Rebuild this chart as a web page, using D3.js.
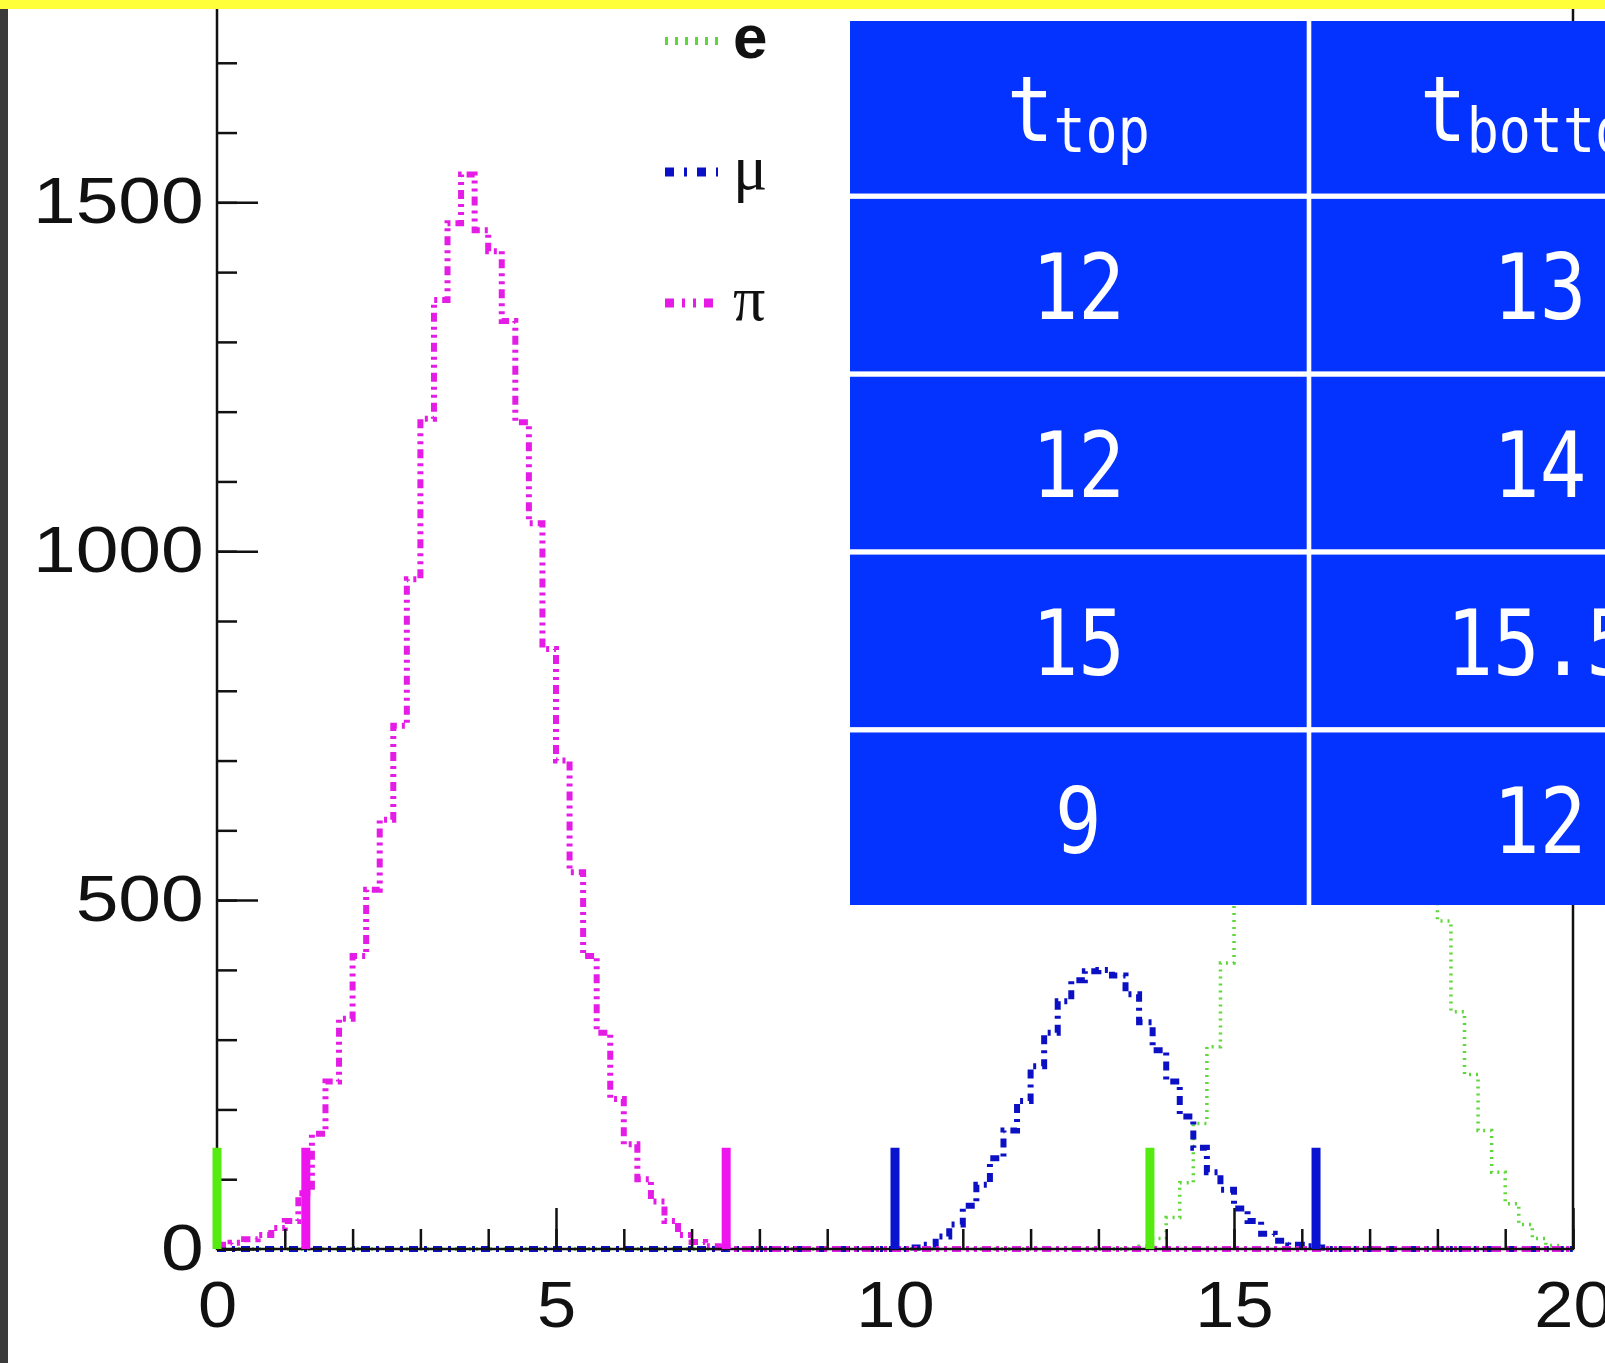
<!DOCTYPE html>
<html>
<head>
<meta charset="utf-8">
<script src="https://cdn.jsdelivr.net/npm/d3@7"></script>
<style>
  body { margin: 0; background: #fff; }
  svg { display: block; }
</style>
</head>
<body>
<div id="chart"></div>
<script>

/* DATA */
// histograms, 0.2 wide bins; each list starts at its own first bin edge
const binWidth = 0.2;

const piStart = 0.0;
const piCounts = [6, 9, 14, 20, 30, 40, 80, 165, 240, 330, 420, 515, 615, 750, 960, 1190,
  1360, 1470, 1540, 1460, 1430, 1330, 1185, 1040, 860, 700, 540, 420, 310, 215, 150, 100,
  68, 40, 20, 10, 4, 2];

const muStart = 10.2;
const muCounts = [2, 6, 18, 35, 62, 92, 130, 170, 212, 262, 310, 355, 385, 398, 400, 392,
  365, 325, 285, 240, 190, 145, 110, 85, 58, 40, 22, 12, 6, 4, 2];

const eStart = 13.6;
const eCounts = [4, 15, 45, 95, 180, 290, 410, 500, 650, 820, 990, 1150, 1290, 1400, 1460,
  1475, 1440, 1360, 1240, 1080, 860, 640, 470, 340, 250, 170, 110, 65, 35, 15, 5];

// the thick vertical markers
const cutPositions = [0, 1.31, 7.51, 10.0, 13.76, 16.21];
const cutSeries = ["e", "pi", "pi", "mu", "e", "mu"];
const cutHeight = 145;

const legendKeys = ["e", "mu", "pi"];
const legendLabels = ["e", "μ", "π"];

const xMajorTicks = [0, 5, 10, 15, 20];
const xMinorTicks = d3.range(0, 21, 1);
const yMajorTicks = [0, 500, 1000, 1500];
const yMinorTicks = d3.range(0, 1800, 100);

// table overlay
const tableHeader = [["t", "top"], ["t", "bottom"]];
const tableRows = [["12", "13"], ["12", "14"], ["15", "15.5"], ["9", "12"]];

/* CONSTANTS */
const width = 1605, height = 1363;

const colors = {
  e: "#5ed838",
  mu: "#0c10c4",
  pi: "#e41ce6"
};
const barColors = {
  e: "#55ea10",
  mu: "#0a14d0",
  pi: "#ee14ee"
};
const dashes = {
  e: "2,5",
  mu: "9,6,3,6",
  pi: "9,5,3,5,3,5"
};
const strokeW = { e: 3.5, mu: 6, pi: 6 };

const svg = d3.select("#chart")
  .append("svg")
  .attr("width", width)
  .attr("height", height);

svg.append("rect")
  .attr("width", width).attr("height", height)
  .attr("fill", "#fff");

/* SCALES */
const xScale = d3.scaleLinear()
  .domain([0, 20])
  .range([217, 1573]);

const yScale = d3.scaleLinear()
  .domain([0, 1800])
  .range([1249, -7]);

/* HISTOGRAMS */
function buildBins(start, counts) {
  const nBins = Math.round(20 / binWidth);
  const first = Math.round(start / binWidth);
  return d3.range(nBins).map(i => {
    const j = i - first;
    return { x: i * binWidth, y: (j >= 0 && j < counts.length) ? counts[j] : 0 };
  });
}

const series = [
  { key: "e", bins: buildBins(eStart, eCounts) },
  { key: "mu", bins: buildBins(muStart, muCounts) },
  { key: "pi", bins: buildBins(piStart, piCounts) }
];

const stepLine = d3.line()
  .x(d => xScale(d.x))
  .y(d => yScale(d.y))
  .curve(d3.curveStepAfter);

svg.selectAll(".hist")
  .data(series)
  .join("path")
  .attr("class", "hist")
  .attr("fill", "none")
  .attr("stroke", d => colors[d.key])
  .attr("stroke-width", d => strokeW[d.key])
  .attr("stroke-dasharray", d => dashes[d.key])
  .attr("d", d => stepLine(d.bins.concat([{ x: 20, y: d.bins[d.bins.length - 1].y }])));

/* AXES */
const axisG = svg.append("g")
  .attr("font-family", "'Liberation Sans', Arial, sans-serif");

// frame
axisG.append("path")
  .attr("fill", "none")
  .attr("stroke", "#111")
  .attr("stroke-width", 2.5)
  .attr("d", `M${xScale(0)},${yScale(1800)}V${yScale(0)}H${xScale(20)}V${yScale(1800)}`);

const yMinor = d3.axisLeft(yScale)
  .tickValues(yMinorTicks)
  .tickSizeInner(-20).tickSizeOuter(0)
  .tickFormat("");
const yMajor = d3.axisLeft(yScale)
  .tickValues(yMajorTicks)
  .tickSizeInner(-41).tickSizeOuter(0)
  .tickPadding(11)
  .tickFormat(d3.format("d"));

const xMinor = d3.axisBottom(xScale)
  .tickValues(xMinorTicks)
  .tickSizeInner(-20).tickSizeOuter(0)
  .tickFormat("");
const xMajor = d3.axisBottom(xScale)
  .tickValues(xMajorTicks)
  .tickSizeInner(-41).tickSizeOuter(0)
  .tickPadding(33)
  .tickFormat(d3.format("d"));

[yMinor, yMajor].forEach(ax => {
  axisG.append("g")
    .attr("class", "yax")
    .attr("transform", `translate(${xScale(0)},0)`)
    .call(ax);
});
[xMinor, xMajor].forEach(ax => {
  axisG.append("g")
    .attr("class", "xax")
    .attr("transform", `translate(0,${yScale(0)})`)
    .call(ax);
});

axisG.selectAll(".domain").remove();
axisG.selectAll(".tick line")
  .attr("stroke", "#111")
  .attr("stroke-width", 2.5);
axisG.selectAll(".tick text")
  .attr("fill", "#111")
  .attr("font-size", 64);
axisG.selectAll(".yax .tick text")
  .attr("transform", "scale(1.2,1)");
axisG.selectAll(".xax .tick text")
  .attr("transform", "scale(1.1,1)");

/* CUT MARKERS */
svg.selectAll(".cut")
  .data(cutPositions)
  .join("line")
  .attr("class", "cut")
  .attr("x1", d => xScale(d)).attr("x2", d => xScale(d))
  .attr("y1", yScale(0)).attr("y2", yScale(cutHeight))
  .attr("stroke", (d, i) => barColors[cutSeries[i]])
  .attr("stroke-width", 9);

/* LEGEND */
const legendY = d3.scalePoint()
  .domain(legendKeys)
  .range([41, 303]);

const legend = svg.append("g");
legendKeys.forEach((k, i) => {
  legend.append("line")
    .attr("x1", 665).attr("x2", 718)
    .attr("y1", legendY(k)).attr("y2", legendY(k))
    .attr("stroke", colors[k])
    .attr("stroke-width", k === "e" ? 8 : 9)
    .attr("stroke-dasharray", k === "e" ? "3,7" : (k === "mu" ? "9,10,3,10" : "9,8,3,8,3,8"));
  legend.append("text")
    .attr("x", 733)
    .attr("y", legendY(k) + 17)
    .attr("font-size", k === "e" ? 62 : 64)
    .attr("font-weight", k === "e" ? "bold" : "normal")
    .attr("font-family", k === "e" ? "'Liberation Sans', Arial, sans-serif" : "'Liberation Serif', 'Times New Roman', serif")
    .attr("fill", "#111")
    .text(legendLabels[i]);
});

/* TABLE */
const rowScale = d3.scaleBand()
  .domain(d3.range(tableRows.length + 1))
  .range([21, 905])
  .paddingInner(0.03);
const colScale = d3.scaleBand()
  .domain([0, 1])
  .range([850, 1768])
  .paddingInner(0.01);

const table = svg.append("g")
  .attr("font-family", "'Comic Sans MS', 'DejaVu Sans Mono', monospace")
  .attr("fill", "#fff");

// white backing so the grid gaps stay white
table.append("rect")
  .attr("x", colScale.range()[0]).attr("y", rowScale.range()[0])
  .attr("width", colScale.range()[1] - colScale.range()[0])
  .attr("height", rowScale.range()[1] - rowScale.range()[0])
  .attr("fill", "#fff");

const cells = [];
tableHeader.forEach((h, c) => cells.push({ row: 0, col: c, main: h[0], sub: h[1] }));
tableRows.forEach((r, i) => r.forEach((v, c) => cells.push({ row: i + 1, col: c, main: v, sub: null })));

table.selectAll(".cell")
  .data(cells)
  .join("rect")
  .attr("class", "cell")
  .attr("x", d => colScale(d.col))
  .attr("y", d => rowScale(d.row))
  .attr("width", colScale.bandwidth())
  .attr("height", rowScale.bandwidth())
  .attr("fill", "#0433ff");

const cellText = table.selectAll("text")
  .data(cells)
  .join("text")
  .attr("text-anchor", "middle")
  .attr("transform", d => `translate(${colScale(d.col) + colScale.bandwidth() / 2},${rowScale(d.row) + rowScale.bandwidth() / 2 + 34}) scale(0.86,1)`)
  .attr("font-size", 90);

cellText.append("tspan").text(d => d.main);
cellText.filter(d => d.sub)
  .append("tspan")
  .attr("font-size", 62)
  .attr("dy", 11)
  .text(d => d.sub);

/* PAGE FRAME */
svg.append("rect")
  .attr("x", 0).attr("y", 0)
  .attr("width", 8).attr("height", height)
  .attr("fill", "#3b3b3b");
svg.append("rect")
  .attr("x", 0).attr("y", 0)
  .attr("width", width).attr("height", 9)
  .attr("fill", "#ffff3a");

</script>
</body>
</html>
